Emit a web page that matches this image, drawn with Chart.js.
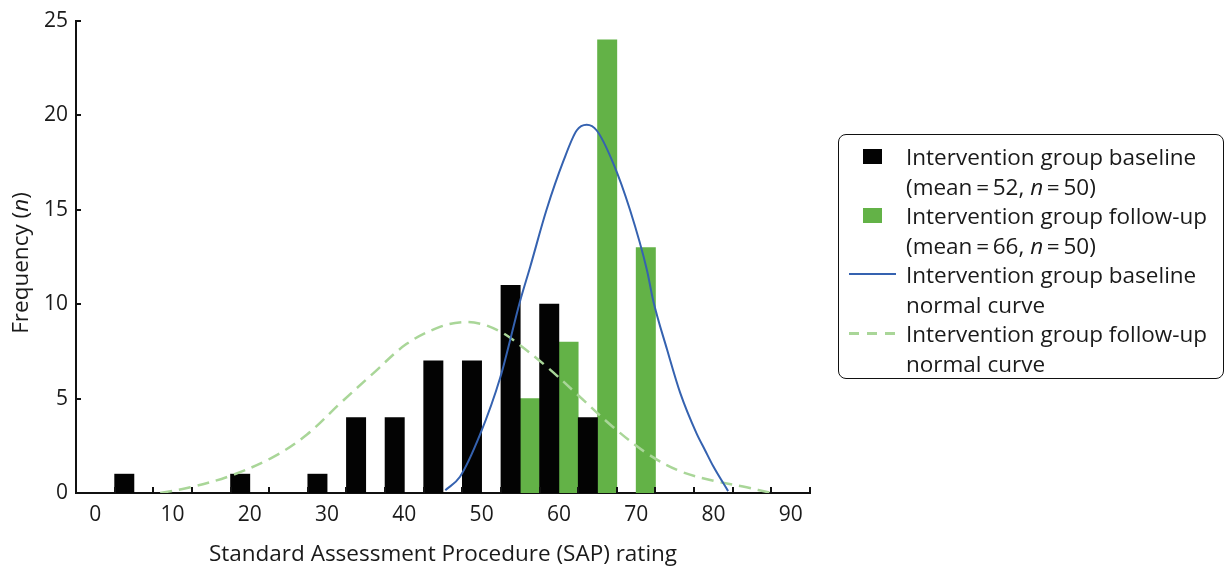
<!DOCTYPE html>
<html>
<head>
<meta charset="utf-8">
<script src="https://cdn.jsdelivr.net/npm/chart.js@4.4.1/dist/chart.umd.min.js"></script>
<style>
  body { margin: 0; background: #fff; font-family: "Open Sans", sans-serif; color: #1a1a1a; }
  #wrap { position: relative; width: 1225px; height: 568px; }
  #legend {
    position: absolute; left: 838px; top: 134px; width: 386px; height: 245px;
    box-sizing: border-box; border: 1.5px solid #111; border-radius: 8px;
    padding-top: 7px; font-size: 22.5px; line-height: 29.5px; white-space: nowrap;
  }
  .item { display: flex; }
  .mark { width: 67px; height: 29.5px; position: relative; flex: none; }
  .sq { position: absolute; left: 24px; top: 7px; width: 19px; height: 15px; }
  .ln { position: absolute; left: 10px; top: 13px; width: 47px; }
</style>
</head>
<body>
<div id="wrap">
  <canvas id="chart" width="1225" height="568"></canvas>
  <div id="legend"></div>
</div>
<script>
// histogram bins (bin centre, width 5) and counts
const baselineBins = [5, 20, 30, 35, 40, 45, 50, 55, 60, 65];
const baselineCounts = [1, 1, 1, 4, 4, 7, 7, 11, 10, 4];
const followupBins = [55, 60, 65, 70];
const followupCounts = [5, 8, 24, 13];

// normal curves
const blueCurveX = [45.3, 47.2, 49.8, 52.4, 55, 56.3, 58.4, 60.6, 62.3, 63.6, 64.9, 67, 69.2, 71.4, 72.2, 74, 75.7, 77.8, 78.9, 80, 81.9];
const blueCurveY = [0.15, 0.86, 3.1, 6.1, 10.2, 12, 15, 17.6, 19.2, 19.5, 19.2, 17.5, 15, 11.8, 10.2, 7.6, 5.3, 3.17, 2.28, 1.4, 0.1];
const dashCurveX = [8.4, 12.3, 17.4, 23, 27.4, 31.7, 36, 40.3, 44.6, 47.6, 50, 52.4, 54.1, 58.4, 62.7, 67, 71.4, 75.7, 80, 84.3, 87.3];
const dashCurveY = [0, 0.3, 0.9, 1.9, 3.1, 4.75, 6.35, 7.9, 8.8, 9.05, 8.95, 8.55, 8.1, 6.7, 5.1, 3.5, 2.1, 1.15, 0.65, 0.3, 0.02];

const xTickLabels = [0, 10, 20, 30, 40, 50, 60, 70, 80, 90];
const xTickMarks = [2.5, 7.5, 12.5, 17.5, 22.5, 27.5, 32.5, 37.5, 42.5, 47.5, 52.5, 57.5, 62.5, 67.5, 72.5, 77.5, 82.5, 87.5, 92.5];
const yTickMarks = [5, 10, 15, 20, 25];

const legendItems = [
  { kind: 'sq', color: '#030303', html: 'Intervention group baseline<br>(mean\u2009=\u200952, <i>n</i>\u2009=\u200950)' },
  { kind: 'sq', color: '#63b247', html: 'Intervention group follow-up<br>(mean\u2009=\u200966, <i>n</i>\u2009=\u200950)' },
  { kind: 'solid', color: '#3562b0', html: 'Intervention group baseline<br>normal curve' },
  { kind: 'dash', color: '#a9d698', html: 'Intervention group follow-up<br>normal curve' }
];

const FONT = '"Open Sans", sans-serif';

// baseline bars sit in the left half of a bin, follow-up in the right half
const blackData = baselineBins.map((c, i) => ({ x: c - 1.25, y: baselineCounts[i] }));
const greenData = followupBins.map((c, i) => ({ x: c + 1.25, y: followupCounts[i] }));
const blueData = blueCurveX.map((x, i) => ({ x: x, y: blueCurveY[i] }));
const dashData = dashCurveX.map((x, i) => ({ x: x, y: dashCurveY[i] }));

// inward tick marks + y title with italic n
const extrasPlugin = {
  id: 'extras',
  afterDraw(chart) {
    const ctx = chart.ctx;
    const xs = chart.scales.x, ys = chart.scales.y;
    const area = chart.chartArea;
    ctx.save();
    ctx.strokeStyle = '#111';
    ctx.lineWidth = 2;
    xTickMarks.forEach(v => {
      const px = Math.round(xs.getPixelForValue(v));
      ctx.beginPath();
      ctx.moveTo(px, area.bottom);
      ctx.lineTo(px, area.bottom - 6);
      ctx.stroke();
    });
    yTickMarks.forEach(v => {
      const py = Math.round(ys.getPixelForValue(v));
      ctx.beginPath();
      ctx.moveTo(area.left, py);
      ctx.lineTo(area.left + 5, py);
      ctx.stroke();
    });

    // y title
    const parts = [['Frequency (', 'normal'], ['n', 'italic'], [')', 'normal']];
    ctx.fillStyle = '#1a1a1a';
    ctx.textBaseline = 'middle';
    ctx.textAlign = 'left';
    let total = 0;
    parts.forEach(p => { ctx.font = p[1] + ' 22.5px ' + FONT; total += ctx.measureText(p[0]).width; });
    ctx.translate(22, 263);
    ctx.rotate(-Math.PI / 2);
    let off = -total / 2;
    parts.forEach(p => {
      ctx.font = p[1] + ' 22.5px ' + FONT;
      ctx.fillText(p[0], off, 0);
      off += ctx.measureText(p[0]).width;
    });
    ctx.restore();
  }
};

new Chart(document.getElementById('chart'), {
  type: 'bar',
  data: {
    datasets: [
      { type: 'line', label: 'baseline curve', data: blueData, borderColor: '#3562b0', borderWidth: 2,
        pointRadius: 0, cubicInterpolationMode: 'monotone', fill: false, order: 0 },
      { type: 'line', label: 'follow-up curve', data: dashData, borderColor: '#a9d698', borderWidth: 2.5,
        borderDash: [12, 7], pointRadius: 0, tension: 0.35, fill: false, order: 0 },
      { label: 'baseline', data: blackData, backgroundColor: '#030303', grouped: false,
        barPercentage: 1, categoryPercentage: 1, order: 1 },
      { label: 'follow-up', data: greenData, backgroundColor: '#63b247', grouped: false,
        barPercentage: 1, categoryPercentage: 1, order: 1 }
    ]
  },
  options: {
    responsive: false,
    animation: false,
    layout: { padding: { left: 0, right: 415, top: 21, bottom: 0 } },
    plugins: { legend: { display: false }, tooltip: { enabled: false } },
    scales: {
      x: {
        type: 'linear', min: -2.5, max: 92.5, offset: false,
        grid: { display: false, drawTicks: false, offset: false },
        border: { display: true, color: '#111', width: 2 },
        afterBuildTicks: s => { s.ticks = xTickLabels.map(v => ({ value: v })); },
        afterFit: s => { s.height = 75; },
        ticks: { color: '#1a1a1a', font: { family: FONT, size: 21 }, padding: 9, maxRotation: 0, autoSkip: false },
        title: { display: true, text: 'Standard Assessment Procedure (SAP) rating', color: '#1a1a1a',
          font: { family: FONT, size: 22.5 }, padding: { top: 0, bottom: 0 } }
      },
      y: {
        min: 0, max: 25,
        grid: { display: false, drawTicks: false },
        border: { display: true, color: '#111', width: 2 },
        afterFit: s => { s.width = 76; },
        ticks: { stepSize: 5, color: '#1a1a1a', font: { family: FONT, size: 21 }, padding: 8 }
      }
    }
  },
  plugins: [extrasPlugin]
});

// legend
const legend = document.getElementById('legend');
legendItems.forEach(it => {
  const row = document.createElement('div');
  row.className = 'item';
  const mark = document.createElement('div');
  mark.className = 'mark';
  const m = document.createElement('div');
  if (it.kind === 'sq') {
    m.className = 'sq';
    m.style.background = it.color;
  } else if (it.kind === 'dash') {
    m.className = 'ln';
    m.style.height = '2.5px';
    m.style.background = 'repeating-linear-gradient(to right, ' + it.color + ' 0 10px, transparent 10px 18px)';
  } else {
    m.className = 'ln';
    m.style.height = '2px';
    m.style.background = it.color;
  }
  mark.appendChild(m);
  const txt = document.createElement('div');
  txt.innerHTML = it.html;
  row.appendChild(mark);
  row.appendChild(txt);
  legend.appendChild(row);
});
</script>
</body>
</html>
